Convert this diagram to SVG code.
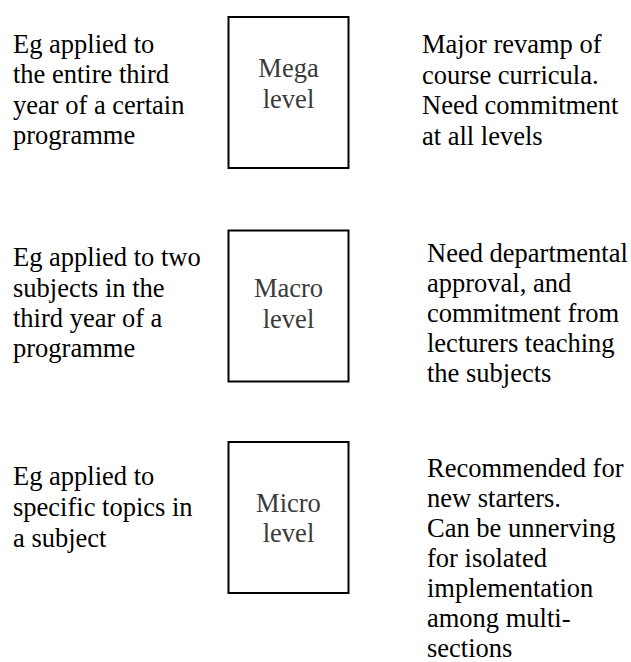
<svg xmlns="http://www.w3.org/2000/svg" width="631" height="662" viewBox="0 0 631 662">
<style>
text { font-size: 26.5px; fill: #000; }
.box { fill: #fff; stroke: #000; stroke-width: 2; }
.lbl { fill: #3a3a3a; text-anchor: middle; }
</style>
<rect width="631" height="662" fill="#fff"/>
<g font-family="Liberation Serif, DejaVu Serif, serif">
<g id="mega-desc">
<text x="13" y="52.5">Eg applied to</text>
<text x="13" y="83">the entire third</text>
<text x="13" y="113.5">year of a certain</text>
<text x="13" y="144">programme</text>
</g>
<g id="mega">
<rect class="box" x="228.5" y="17" width="120" height="151"/>
<text class="lbl" x="288.5" y="77">Mega</text>
<text class="lbl" x="288.5" y="107.5">level</text>
</g>
<g id="mega-note">
<text x="422" y="53">Major revamp of</text>
<text x="422" y="83.5">course curricula.</text>
<text x="422" y="114">Need commitment</text>
<text x="422" y="144.5">at all levels</text>
</g>
<g id="macro-desc">
<text x="13" y="266">Eg applied to two</text>
<text x="13" y="296.5">subjects in the</text>
<text x="13" y="327">third year of a</text>
<text x="13" y="357">programme</text>
</g>
<g id="macro">
<rect class="box" x="228.5" y="230.5" width="120" height="151"/>
<text class="lbl" x="288.5" y="297">Macro</text>
<text class="lbl" x="288.5" y="327.5">level</text>
</g>
<g id="macro-note">
<text x="427" y="262">Need departmental</text>
<text x="427" y="292">approval, and</text>
<text x="427" y="322">commitment from</text>
<text x="427" y="352">lecturers teaching</text>
<text x="427" y="382">the subjects</text>
</g>
<g id="micro-desc">
<text x="13" y="485">Eg applied to</text>
<text x="13" y="516">specific topics in</text>
<text x="13" y="546.5">a subject</text>
</g>
<g id="micro">
<rect class="box" x="228.5" y="442" width="120" height="151"/>
<text class="lbl" x="288.5" y="512">Micro</text>
<text class="lbl" x="288.5" y="542">level</text>
</g>
<g id="micro-note">
<text x="427" y="477">Recommended for</text>
<text x="427" y="507">new starters.</text>
<text x="427" y="537">Can be unnerving</text>
<text x="427" y="567">for isolated</text>
<text x="427" y="597">implementation</text>
<text x="427" y="627">among multi-</text>
<text x="427" y="657">sections</text>
</g>
</g>
<g id="connectors"></g>
</svg>
